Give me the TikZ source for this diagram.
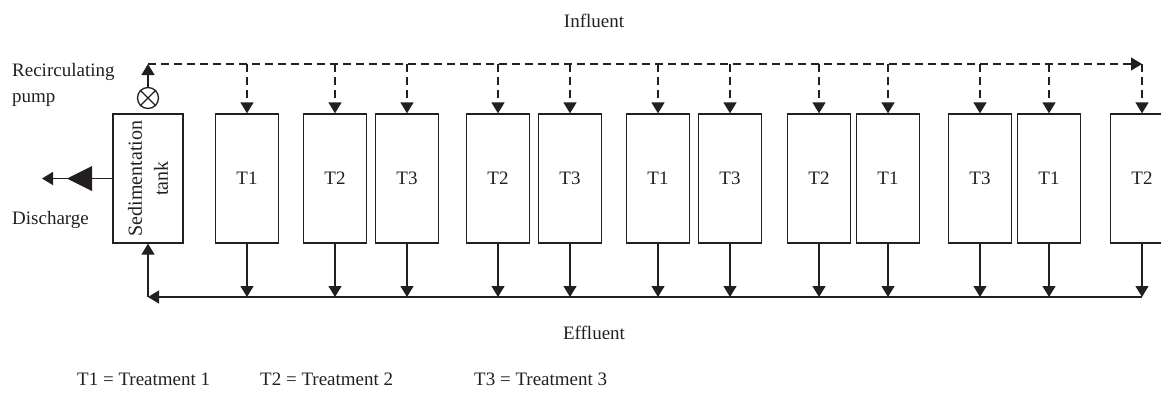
\documentclass[tikz,border=0pt]{standalone}
\usepackage{fontspec}
\setmainfont{Liberation Serif}
\usetikzlibrary{arrows.meta}
\definecolor{ink}{HTML}{231F20}
\begin{document}
\begin{tikzpicture}[x=1pt,y=-1pt,
  every node/.style={text=ink, font=\fontsize{19}{25}\selectfont},
  tank/.style={draw=ink, line width=1.3pt, minimum width=63pt, minimum height=129pt, inner sep=0pt},
  arr/.style={draw=ink, line width=1.3pt, -{Triangle[width=13pt,length=11pt]}},
  dsh/.style={arr, dash pattern=on 8pt off 5pt},
  lbl/.style={anchor=base west, inner sep=0pt}
]
\clip (0,0) rectangle (1161,404);
% sedimentation tank and pump
\node[tank, minimum width=70pt] (sed) at (148,178.5) {};
\node[rotate=90, align=center, inner sep=0pt, font=\fontsize{20}{26}\selectfont] (sedtxt) at (sed.center) {Sedimentation\\tank};
\node[draw=ink, line width=1.3pt, circle, minimum size=21pt, inner sep=0pt] (pump) at (148,98) {};
\draw[ink, line width=1.3pt] (pump.45) -- (pump.225) (pump.135) -- (pump.315);
% treatment tanks
\foreach \n/\x/\t in {1/247/T1, 2/335/T2, 3/407/T3, 4/498/T2, 5/570/T3, 6/658/T1, 7/730/T3, 8/819/T2, 9/888/T1, 10/980/T3, 11/1049/T1, 12/1142/T2}
  \node[tank] (b\n) at (\x,178.5) {\t};
% coordinates
\coordinate (tl) at (148,64);
\coordinate (tr) at (b12.north |- tl);
\coordinate (bl) at (148,297);
\coordinate (br) at (b12.south |- bl);
\coordinate (dis) at (42,178.5);
% influent (dashed)
\draw[arr] (pump.north) -- (tl);
\draw[dsh] (tl) -- (tr);
\foreach \n in {1,...,11} \draw[dsh] (b\n.north |- tl) -- (b\n.north);
\draw[dsh] (tr) -- (b12.north);
% effluent
\foreach \n in {1,...,12} \draw[arr] (b\n.south) -- (b\n.south |- bl);
\draw[arr] (br) -- (bl);
\draw[arr] (bl) -- (sed.south);
% discharge
\draw[arr] (sed.west) -- (dis);
\fill[ink] (67,178.5) -- (92,166) -- (92,191) -- cycle;
% labels
\node[anchor=base] (infl) at (594,28) {Influent};
\node[anchor=base] (effl) at (594,339) {Effluent};
\node[lbl] (rec) at (12,77) {Recirculating};
\node[lbl] (pmp) at (12,102) {pump};
\node[lbl] (dsc) at (12,224) {Discharge};
\node[lbl] (l1) at (77,385) {T1 = Treatment 1};
\node[lbl] (l2) at (260,385) {T2 = Treatment 2};
\node[lbl] (l3) at (474,385) {T3 = Treatment 3};
\end{tikzpicture}
\end{document}
